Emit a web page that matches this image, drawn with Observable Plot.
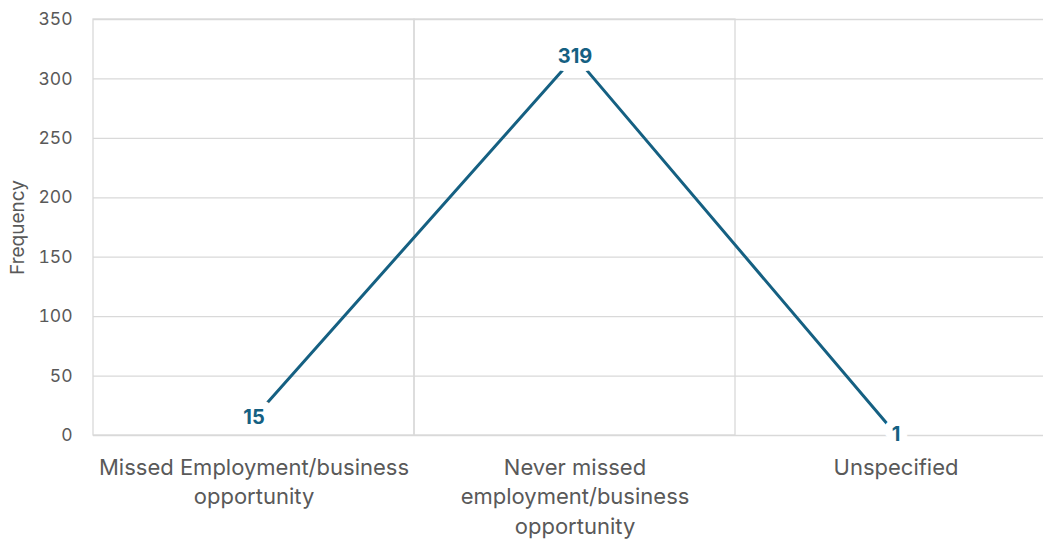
<!DOCTYPE html>
<html>
<head>
<meta charset="utf-8">
<script src="https://cdn.jsdelivr.net/npm/d3@7"></script>
<script src="https://cdn.jsdelivr.net/npm/@observablehq/plot@0.6"></script>
<style>
  html, body { margin: 0; padding: 0; background: #fff; }
  #chart { width: 1045px; height: 539px; }
</style>
</head>
<body>
<div id="chart"></div>
<script>
const categories = ["missed", "never", "unspecified"];
const categoryLabels = [
  "Missed Employment/business\nopportunity",
  "Never missed\nemployment/business\nopportunity",
  "Unspecified"
];
const frequencies = [15, 319, 1];
const yTicks = [0, 50, 100, 150, 200, 250, 300, 350];
const yTitle = ["Frequency"];

const data = categories.map((c, i) => ({category: c, label: categoryLabels[i], value: frequencies[i]}));
const labelOf = new Map(categories.map((c, i) => [c, categoryLabels[i]]));

const font = "Inter, 'Open Sans', sans-serif";
const grid = "#d9d9d9";
const lineColor = "#156082";
const textColor = "#595959";

const chart = Plot.plot({
  width: 1045,
  height: 539,
  marginLeft: 93,
  marginRight: 2,
  marginTop: 19,
  marginBottom: 104,
  style: {fontFamily: font, background: "#fff"},
  x: {type: "band", domain: categories, padding: 0, range: [93, 1056]},
  y: {domain: [0, 350]},
  marks: [
    Plot.gridY(yTicks, {stroke: grid, strokeOpacity: 1, strokeWidth: 1.3}),
    Plot.barY(data.slice(0, 2), {x: "category", y1: 0, y2: 350, fill: "none", stroke: grid, strokeWidth: 1.3}),
    Plot.axisY(yTicks, {
      tickSize: 0, tickPadding: 21, fontSize: 17.5, fill: textColor, label: null
    }),
    Plot.text(yTitle, {
      frameAnchor: "left", textAnchor: "middle", rotate: -90, dx: -76,
      fontSize: 19, fill: textColor
    }),
    Plot.axisX({
      tickSize: 0, tickPadding: 18, fontSize: 22, fill: textColor,
      tickFormat: d => labelOf.get(d), lineHeight: 1.35, label: null
    }),
    Plot.line(data, {x: "category", y: "value", stroke: lineColor, strokeWidth: 3}),
    Plot.text(data, {
      x: "category", y: "value", text: d => String(d.value),
      fill: lineColor, fontWeight: "bold", fontSize: 20,
      stroke: "white", strokeWidth: 16, paintOrder: "stroke"
    })
  ]
});

document.getElementById("chart").appendChild(chart);
</script>
</body>
</html>
